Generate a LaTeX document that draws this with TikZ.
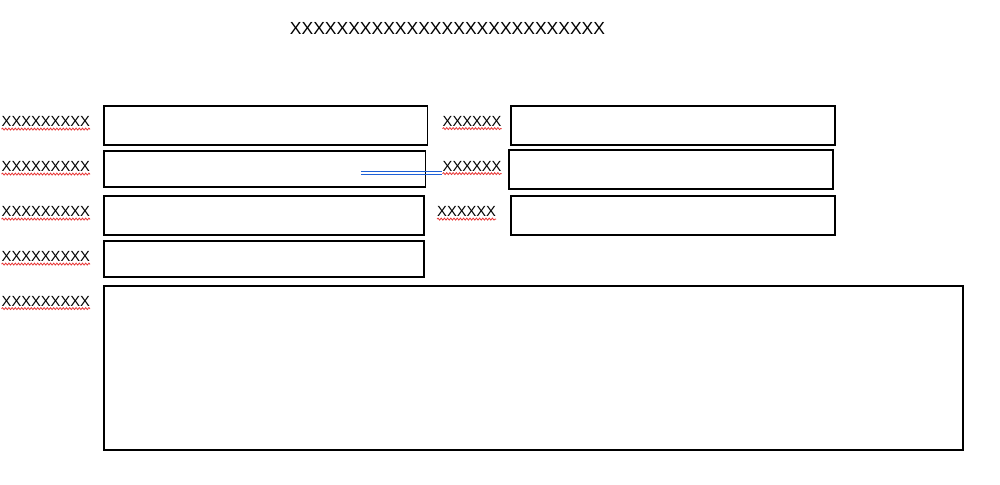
\documentclass[tikz,border=0pt]{standalone}
\usepackage{fontspec}
\setmainfont{Liberation Sans}
\usetikzlibrary{decorations.pathmorphing,calc}
\definecolor{sqred}{RGB}{232,50,50}
\definecolor{linkblue}{RGB}{30,96,214}
\tikzset{
  boxx/.style={draw=black,line width=1.4pt,anchor=north west,inner sep=0pt,outer sep=0pt},
  lbl/.style={anchor=base west,inner sep=0pt,font=\fontsize{14.7pt}{16pt}\selectfont},
  ttl/.style={inner sep=0pt,font=\fontsize{17.5pt}{19pt}\selectfont},
  squig/.style={draw=sqred,line width=0.8pt,decorate,decoration={snake,segment length=3.2pt,amplitude=1pt}},
  blueline/.style={draw=linkblue,line width=0.9pt}
}
\begin{document}
\begin{tikzpicture}[x=1pt,y=-1pt]
\useasboundingbox (0,0) rectangle (1000,484);
% title
\node[ttl] (title) at (447.5,28) {XXXXXXXXXXXXXXXXXXXXXXXXXXX};
% left boxes
\node[boxx,minimum width=323.5pt,minimum height=39pt] (b1) at (104,106) {};
\node[boxx,minimum width=321.5pt,minimum height=36pt] (b2) at (104,151) {};
\node[boxx,minimum width=320pt,minimum height=39pt] (b3) at (104,196) {};
\node[boxx,minimum width=320pt,minimum height=36pt] (b4) at (104,241) {};
\node[boxx,minimum width=859pt,minimum height=164pt] (b5) at (104,286) {};
% right boxes
\node[boxx,minimum width=324pt,minimum height=39pt] (r1) at (511,106) {};
\node[boxx,minimum width=324pt,minimum height=39pt] (r2) at (509,150) {};
\node[boxx,minimum width=324pt,minimum height=39pt] (r3) at (511,196) {};
% left labels
\node[lbl] (l1) at (1.5,126.5) {XXXXXXXXX};
\node[lbl] (l2) at (1.5,171.5) {XXXXXXXXX};
\node[lbl] (l3) at (1.5,216.5) {XXXXXXXXX};
\node[lbl] (l4) at (1.5,261.5) {XXXXXXXXX};
\node[lbl] (l5) at (1.5,306) {XXXXXXXXX};
% middle labels
\node[lbl] (m1) at (442.5,126) {XXXXXX};
\node[lbl] (m2) at (442.5,171) {XXXXXX};
\node[lbl] (m3) at (437,216.5) {XXXXXX};
% spell-check underlines
\foreach \n in {l1,l2,l3,l4,l5,m1,m2,m3}{
  \draw[squig] ($(\n.base west)+(0,2.6)$) -- ($(\n.base east)+(0,2.6)$);
}
% blue double connector
\coordinate (c1) at (361,172.5);
\coordinate (c2) at ($(m2.base west)+(-0.5,1.5)$);
\draw[blueline] ($(c1)+(0,-1.5)$) -- ($(c2)+(0,-1.5)$);
\draw[blueline] ($(c1)+(0,1.5)$) -- ($(c2)+(0,1.5)$);
\end{tikzpicture}
\end{document}
